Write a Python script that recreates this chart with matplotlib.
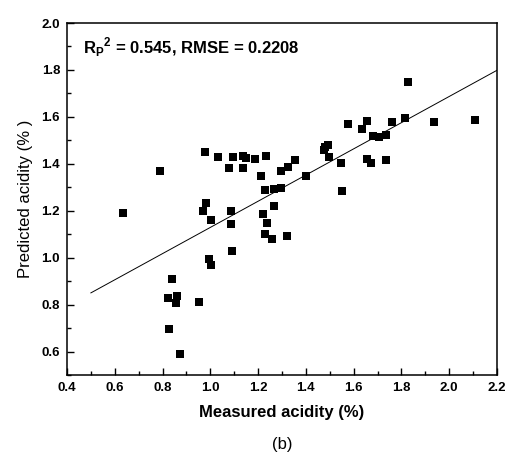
import matplotlib
matplotlib.use("Agg")
import matplotlib.pyplot as plt
from matplotlib.ticker import MultipleLocator
import numpy as np

plt.rcParams['font.family'] = ['Liberation Sans', 'DejaVu Sans']
plt.rcParams['mathtext.fontset'] = 'custom'
plt.rcParams['mathtext.rm'] = 'Liberation Sans'
plt.rcParams['mathtext.bf'] = 'Liberation Sans:bold'

# measured vs predicted acidity (%)
measured = [0.789, 0.976, 1.034, 1.079, 1.097, 1.136, 1.136, 1.150, 1.186, 1.212,
            1.233, 1.228, 1.265, 1.294, 1.296, 1.327, 1.354, 1.399, 1.475, 1.482,
            1.492, 1.495, 1.546, 1.553, 1.578, 1.635, 1.655, 1.655, 1.674, 1.683,
            1.705, 1.737, 1.737, 1.762, 1.813, 1.827, 1.936, 2.107,
            0.636, 0.981, 0.970, 1.002, 1.086, 1.086, 1.091, 0.995, 1.001, 0.841,
            0.823, 0.860, 0.855, 0.951, 0.828, 0.874, 1.219, 1.239, 1.228, 1.258,
            1.321, 1.265]
predicted = [1.369, 1.451, 1.428, 1.381, 1.428, 1.432, 1.383, 1.424, 1.421, 1.347,
             1.435, 1.289, 1.294, 1.296, 1.369, 1.387, 1.417, 1.350, 1.461, 1.470,
             1.479, 1.428, 1.403, 1.283, 1.569, 1.547, 1.584, 1.421, 1.403, 1.517,
             1.516, 1.523, 1.417, 1.577, 1.594, 1.747, 1.580, 1.587,
             1.190, 1.231, 1.200, 1.160, 1.201, 1.145, 1.030, 0.993, 0.967, 0.908,
             0.828, 0.835, 0.807, 0.810, 0.695, 0.589, 1.187, 1.147, 1.102, 1.079,
             1.092, 1.220]

# fitted line (slope, intercept) and its x range
fit_slope = 0.558
fit_intercept = 0.571
fit_range = [0.5, 2.2]

fig = plt.figure(figsize=(5.06, 4.65), dpi=100)
ax = fig.add_axes([0.1324, 0.1935, 0.8498, 0.757])

ax.scatter(measured, predicted, marker='s', s=26, color='black', linewidths=0, zorder=3)
fx = np.array(fit_range)
ax.plot(fx, fit_slope * fx + fit_intercept, color='black', linewidth=0.7)

ax.set_xlim(0.4, 2.2)
ax.set_ylim(0.5, 2.0)
ax.xaxis.set_major_locator(MultipleLocator(0.2))
ax.xaxis.set_minor_locator(MultipleLocator(0.1))
ax.yaxis.set_major_locator(MultipleLocator(0.2))
ax.yaxis.set_minor_locator(MultipleLocator(0.1))
ax.set_yticks(np.arange(0.6, 2.01, 0.2))
ax.tick_params(which='both', direction='in', top=False, right=False, width=1)
ax.tick_params(which='major', length=5, labelsize=9.5, pad=5)
ax.tick_params(which='minor', length=3)
for lbl in ax.get_xticklabels() + ax.get_yticklabels():
    lbl.set_fontweight('bold')
for sp in ax.spines.values():
    sp.set_linewidth(1.1)

ax.set_xlabel("Measured acidity (%)", fontsize=12, fontweight='bold', labelpad=8)
ax.set_ylabel("Predicted acidity (% )", fontsize=12, labelpad=6)
ax.text(0.037, 0.93, r'${\mathbf{R}_\mathbf{P}}^{\mathbf{2}}$ = 0.545, RMSE = 0.2208',
        transform=ax.transAxes, fontsize=12, fontweight='bold', va='center')
fig.text(0.5585, 0.045, "(b)", fontsize=12, ha='center', va='center')

fig.savefig("out.png", dpi=100)
